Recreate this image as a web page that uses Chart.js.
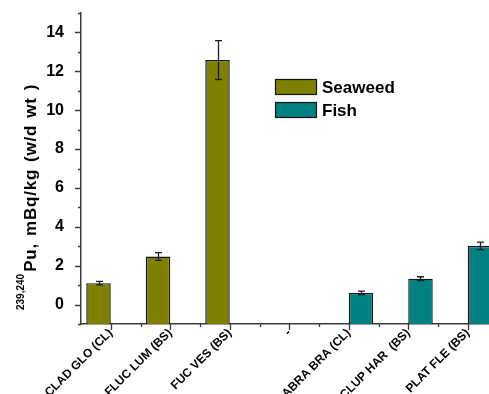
<!DOCTYPE html>
<html>
<head>
<meta charset="utf-8">
<script src="https://cdn.jsdelivr.net/npm/chart.js@4/dist/chart.umd.min.js"></script>
<style>
  html, body { margin: 0; padding: 0; background: #fff; overflow: hidden; width: 489px; height: 394px; }
  canvas { display: block; }
</style>
</head>
<body>
<canvas id="c" width="500" height="394"></canvas>
<script>
// data
const categories = ['CLAD GLO (CL)', 'FLUC LUM (BS)', 'FUC VES (BS)', '-', 'ABRA BRA (CL)', 'CLUP HAR  (BS)', 'PLAT FLE (BS)']
const seaweed    = [1.10, 2.47, 12.58, null, null, null, null]
const seaweedErr = [0.09, 0.20, 1.00, null, null, null, null]
const fish       = [null, null, null, null, 0.60, 1.33, 3.02]
const fishErr    = [null, null, null, null, 0.09, 0.10, 0.19]
const yTicks     = [0, 2, 4, 6, 8, 10, 12, 14]
const yMin = -1
const yMax = 15

const FONT = 'Liberation Sans, Arial, sans-serif'
const AXIS = '#3c3c3c'

// error bars, drawn from the err arrays through the bar elements
const errorBars = {
  id: 'errorBars',
  afterDatasetsDraw(chart) {
    const ctx = chart.ctx
    const y = chart.scales.y
    chart.data.datasets.forEach((ds, di) => {
      const meta = chart.getDatasetMeta(di)
      meta.data.forEach((bar, i) => {
        const v = ds.data[i], e = ds.err[i]
        if (v == null || e == null) return
        const x = Math.round(bar.x) + 0.5
        const top = y.getPixelForValue(v + e)
        const bot = y.getPixelForValue(v - e)
        ctx.save()
        ctx.strokeStyle = '#1e1e1e'
        ctx.lineWidth = 1.3
        ctx.beginPath()
        ctx.moveTo(x, top); ctx.lineTo(x, bot)
        ctx.moveTo(x - 3.5, top); ctx.lineTo(x + 3.5, top)
        ctx.moveTo(x - 3.5, bot); ctx.lineTo(x + 3.5, bot)
        ctx.stroke()
        ctx.restore()
      })
    })
  }
}

// outward tick marks, major and minor
const tickMarks = {
  id: 'tickMarks',
  afterDraw(chart) {
    const ctx = chart.ctx
    const { x, y } = chart.scales
    ctx.save()
    ctx.strokeStyle = AXIS
    ctx.lineWidth = 1.3
    ctx.beginPath()
    for (let v = yMin; v <= yMax; v++) {
      const py = Math.round(y.getPixelForValue(v)) + 0.5
      const len = yTicks.includes(v) ? 6 : 3
      ctx.moveTo(x.left, py); ctx.lineTo(x.left - len, py)
    }
    const n = categories.length
    for (let i = 0; i < n; i++) {
      const cx = Math.round(x.getPixelForValue(i)) + 0.5
      ctx.moveTo(cx, y.bottom); ctx.lineTo(cx, y.bottom + 6)
      const bx = Math.round(x.getPixelForValue(i + 0.5)) + 0.5
      ctx.moveTo(bx, y.bottom); ctx.lineTo(bx, y.bottom + 3)
    }
    ctx.stroke()
    ctx.restore()
  }
}

// rotated y title with superscript isotope numbers
const yTitle = {
  id: 'yTitle',
  afterDraw(chart) {
    const ctx = chart.ctx
    ctx.save()
    ctx.translate(35.5, 310)
    ctx.rotate(-Math.PI / 2)
    ctx.fillStyle = '#000'
    ctx.textBaseline = 'alphabetic'
    ctx.font = 'bold 10px ' + FONT
    const sup = '239,240'
    ctx.fillText(sup, 0, -11.5)
    const sw = ctx.measureText(sup).width
    const main = 'Pu, mBq/kg (w/d wt )'
    ctx.font = 'bold 17px ' + FONT
    ctx.letterSpacing = '0.8px'
    const w = ctx.measureText(main).width
    const extra = Math.max(0, (188 - w) / 4)
    ctx.wordSpacing = extra.toFixed(2) + 'px'
    ctx.fillText(main, sw + 2, 0)
    ctx.restore()
  }
}

// legend box, placed inside the plot like the original
const boxLegend = {
  id: 'boxLegend',
  afterDraw(chart) {
    const ctx = chart.ctx
    ctx.save()
    chart.data.datasets.forEach((ds, i) => {
      const top = 79 + i * 23
      ctx.fillStyle = ds.backgroundColor
      ctx.fillRect(275, top, 42, 16)
      ctx.strokeStyle = '#111'
      ctx.lineWidth = 1.2
      ctx.strokeRect(275.5, top + 0.5, 41, 15)
      ctx.fillStyle = '#000'
      ctx.font = 'bold 17px ' + FONT
      ctx.textBaseline = 'middle'
      ctx.fillText(ds.label, 322, top + 9)
    })
    ctx.restore()
  }
}

new Chart(document.getElementById('c'), {
  type: 'bar',
  data: {
    labels: categories,
    datasets: [
      { label: 'Seaweed', data: seaweed, err: seaweedErr, backgroundColor: '#808000', borderColor: '#141414', borderWidth: 1.4, base: yMin },
      { label: 'Fish', data: fish, err: fishErr, backgroundColor: '#008080', borderColor: '#141414', borderWidth: 1.4, base: yMin },
    ],
  },
  options: {
    responsive: false,
    animation: false,
    devicePixelRatio: 1,
    layout: { padding: { left: 0, top: 13, right: 2.5, bottom: 0 } },
    categoryPercentage: 0.823,
    barPercentage: 1,
    plugins: { legend: { display: false }, tooltip: { enabled: false } },
    scales: {
      x: {
        grid: { display: false },
        border: { display: true, color: AXIS, width: 1.5 },
        ticks: {
          color: '#000',
          font: { family: FONT, size: 12, weight: 'bold' },
          minRotation: 45,
          maxRotation: 45,
          autoSkip: false,
          padding: -6,
        },
        afterFit(s) { s.height = 70; s.paddingLeft = 0; s.paddingRight = 0 },
      },
      y: {
        min: yMin,
        max: yMax,
        grid: { display: false },
        border: { display: true, color: AXIS, width: 1.5 },
        afterBuildTicks(s) { s.ticks = yTicks.map(v => ({ value: v })) },
        ticks: {
          color: '#000',
          font: { family: FONT, size: 16, weight: 'bold' },
          padding: 9,
        },
        afterFit(s) { s.width = 81; s.paddingTop = 0; s.paddingBottom = 0 },
      },
    },
  },
  plugins: [errorBars, tickMarks, yTitle, boxLegend],
})
</script>
</body>
</html>
